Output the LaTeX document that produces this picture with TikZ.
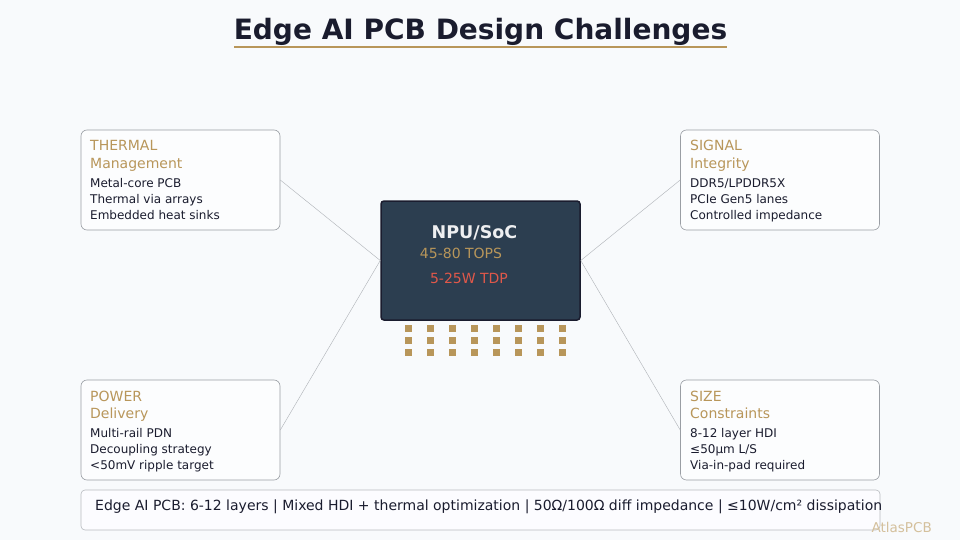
\documentclass[tikz,border=0pt]{standalone}
\usepackage{fontspec}
\setmainfont{DejaVu Sans}
\usetikzlibrary{positioning}

\definecolor{hgrund}{HTML}{F8FAFC}
\definecolor{tinte}{HTML}{1A1C2E}
\definecolor{gold}{HTML}{B8965A}
\definecolor{chipblau}{HTML}{2C3E50}
\definecolor{rahmen}{HTML}{9A9EA4}
\definecolor{rot}{HTML}{E0584A}

\tikzset{
    karte/.style={draw=rahmen, fill=white!60!hgrund, rounded corners=6pt, line width=0.6pt,
        minimum width=199pt, minimum height=100pt, inner sep=0pt},
    kopf/.style={anchor=base west, inner sep=0pt, text=gold, font=\fontsize{14}{16}\selectfont},
    zeile/.style={anchor=base west, inner sep=0pt, text=tinte, font=\fontsize{12}{14}\selectfont},
    pad/.style={fill=gold, minimum size=7pt, inner sep=0pt},
    leitung/.style={draw=rahmen!80, line width=0.4pt}
}

\begin{document}
\begin{tikzpicture}[x=1pt, y=-1pt]
    \fill[hgrund] (0,0) rectangle (960,540);
    \useasboundingbox (0,0) rectangle (960,540);

    % titel
    \path node[inner sep=0pt, anchor=base, text=tinte, font=\fontsize{28}{32}\selectfont\bfseries] (titel) at (480.5,40) {Edge AI PCB Design Challenges};
    \draw[gold, line width=2pt] (234,47) -- (727,47);

    % chip
    \path node[draw=tinte, fill=chipblau, rounded corners=3pt, line width=1.5pt,
        minimum width=199pt, minimum height=119pt] (npu) at (480.5,260.5) {}
        node[inner sep=0pt, anchor=base, text=white!92!chipblau, font=\fontsize{17.5}{20}\selectfont\bfseries] (name) at (474.5,238) {NPU/SoC}
        node[inner sep=0pt, anchor=base, text=gold, font=\fontsize{14}{16}\selectfont] (tops) at (461,258) {45-80 TOPS}
        node[inner sep=0pt, anchor=base, text=rot, font=\fontsize{14}{16}\selectfont] (tdp) at (469,283) {5-25W TDP};
    \foreach \i in {0,...,7}
        \foreach \j in {0,1,2}
            \node[pad] (pad-\i-\j) at (408.5+22*\i, 328.5+12*\j) {};

    % karten
    \path node[karte] (therm) at (180.5,180) {}
        node[karte] (sig) at (780,180) {}
        node[karte] (pwr) at (180.5,430) {}
        node[karte] (size) at (780,430) {};

    \path node[kopf] (therm-a) at (90,151) {THERMAL}
        node[kopf] (therm-b) at (90,168) {Management}
        node[zeile] (therm-1) at (90,187) {Metal-core PCB}
        node[zeile] (therm-2) at (90,203) {Thermal via arrays}
        node[zeile] (therm-3) at (90,219) {Embedded heat sinks};
    \path node[kopf] (sig-a) at (690,151) {SIGNAL}
        node[kopf] (sig-b) at (690,168) {Integrity}
        node[zeile] (sig-1) at (690,187) {DDR5/LPDDR5X}
        node[zeile] (sig-2) at (690,203) {PCIe Gen5 lanes}
        node[zeile] (sig-3) at (690,219) {Controlled impedance};
    \path node[kopf] (pwr-a) at (90,401) {POWER}
        node[kopf] (pwr-b) at (90,418) {Delivery}
        node[zeile] (pwr-1) at (90,437) {Multi-rail PDN}
        node[zeile] (pwr-2) at (90,453) {Decoupling strategy}
        node[zeile] (pwr-3) at (90,469) {<50mV ripple target};
    \path node[kopf] (size-a) at (690,401) {SIZE}
        node[kopf] (size-b) at (690,418) {Constraints}
        node[zeile] (size-1) at (690,437) {8-12 layer HDI}
        node[zeile] (size-2) at (690,453) {≤50μm L/S}
        node[zeile] (size-3) at (690,469) {Via-in-pad required};

    % leitungen
    \draw[leitung] (therm.east) -- (npu.west);
    \draw[leitung] (pwr.east) -- (npu.west);
    \draw[leitung] (sig.west) -- (npu.east);
    \draw[leitung] (size.west) -- (npu.east);

    % fusszeile
    \path node[draw=rahmen!70, fill=hgrund!80!blue!6, rounded corners=4pt, line width=0.6pt,
        minimum width=799pt, minimum height=40pt, inner sep=0pt] (fuss) at (480.5,510) {}
        node[inner sep=0pt, anchor=base west, text=tinte, font=\fontsize{14}{16}\selectfont] (fusstext) at (95,510)
        {Edge AI PCB: 6-12 layers | Mixed HDI + thermal optimization | 50Ω/100Ω diff impedance | ≤10W/cm² dissipation}
        node[inner sep=0pt, anchor=base east, text=gold!60, font=\fontsize{13.5}{15}\selectfont] (marke) at (932,532) {AtlasPCB};
\end{tikzpicture}
\end{document}
